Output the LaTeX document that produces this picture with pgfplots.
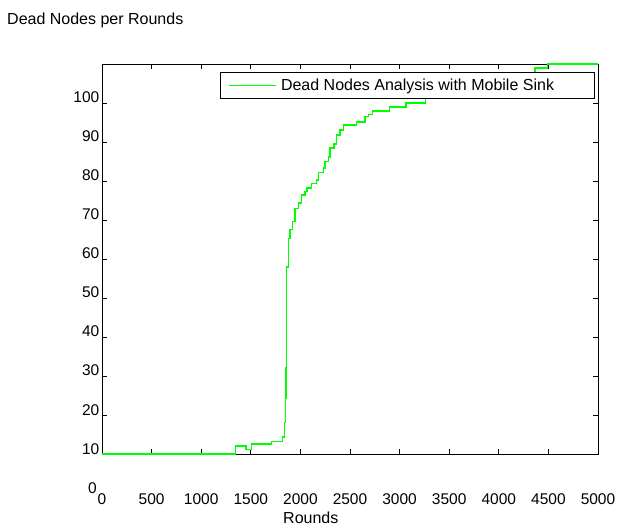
\documentclass[border=0pt]{standalone}
\usepackage{fontspec}
\setmainfont{Liberation Sans}
\usepackage{pgfplots}
\pgfplotsset{compat=1.18}
\definecolor{lgreen}{RGB}{0,255,0}
\begin{document}
\begin{tikzpicture}
\path[use as bounding box] (0,0) rectangle (619bp,526bp);
\node[anchor=base west, inner sep=0pt, font=\fontsize{16bp}{19bp}\selectfont] at (7bp,501bp) {Dead Nodes per Rounds};
\begin{axis}[
  at={(102bp,72bp)}, anchor=south west,
  scale only axis, width=496bp, height=390bp,
  xmin=0, xmax=5000, ymin=10, ymax=110,
  xtick={0,500,...,5000}, ytick={10,20,...,100},
  scaled x ticks=false,
  /pgf/number format/assume math mode=true,
  /pgf/number format/set thousands separator={},
  tick align=inside, major tick length=5bp,
  every tick/.style={black, line width=0.8bp},
  axis line style={black, line width=0.9bp},
  tick label style={font=\fontsize{15.5bp}{18bp}\selectfont},
  yticklabel style={anchor=base east, inner sep=0pt, xshift=-2.5bp},
  xticklabel style={anchor=base, inner sep=0pt, yshift=-50bp},
  xlabel={Rounds},
  xlabel style={at={(axis description cs:0.421,0)}, anchor=base, inner sep=0pt, yshift=-69bp, font=\fontsize{16bp}{19bp}\selectfont},
  clip=false,
  legend image code/.code={\path (0bp,0bp); \draw[draw=lgreen, line width=1.5bp] (8bp,0bp) -- (55bp,0bp);},
  legend style={at={(axis description cs:0.238,0.9795)}, anchor=north west,
    draw=black, line width=1bp, fill=white, inner xsep=0pt, inner ysep=6.5bp,
    nodes={inner sep=0pt}, column sep=4bp,
    font=\fontsize{16bp}{19bp}\selectfont},
]
\addplot[const plot, draw=lgreen, line width=1.5bp] coordinates {
(0,10) (1348,12) (1452,11.1) (1509,12.6) (1711,13.2) (1818,14.3) (1838,18.1)
(1852,24.3) (1855,32) (1858,42) (1862,58) (1878,65.3) (1895,67.5) (1918,69.6)
(1946,73) (1979,74.3) (2013,76.4) (2046,77.3) (2064,78.2) (2114,79.4) (2164,80.3)
(2180,82.2) (2231,83.3) (2248,85) (2281,86.2) (2298,88.4) (2340,89.5) (2366,91.8)
(2399,93.1) (2433,94.4) (2568,95.1) (2651,96.5) (2685,97.1) (2729,97.9) (2896,99)
(3065,100) (3263,101.8) (3500,102.8) (3800,104) (4100,106) (4365,109) (4493,110) (5000,110)
};
\addlegendentry{\makebox[313bp][l]{Dead Nodes Analysis with Mobile Sink}}
\node[anchor=base east, inner sep=0pt, xshift=-5bp, font=\fontsize{15.5bp}{18bp}\selectfont] at (axis cs:0,0) {0};
\end{axis}
\end{tikzpicture}
\end{document}
